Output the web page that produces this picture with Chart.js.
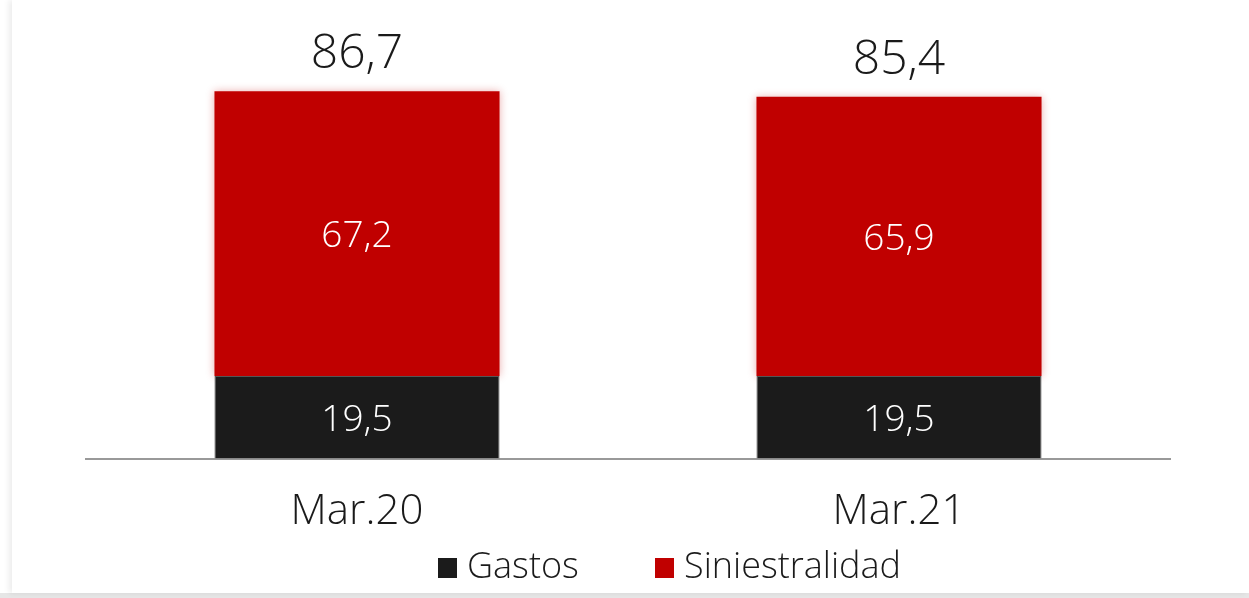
<!DOCTYPE html>
<html>
<head>
<meta charset="utf-8">
<script src="https://cdn.jsdelivr.net/npm/chart.js@4/dist/chart.umd.min.js"></script>
<style>
  html, body { margin: 0; padding: 0; }
  body {
    width: 1249px; height: 598px; overflow: hidden; position: relative;
    background: linear-gradient(to bottom, #fff 0, #fff 593px, #e6e6e6 593px);
  }
  .card {
    position: absolute; left: 12px; top: 0; width: 1237px; height: 593px;
    background: #fff; box-shadow: -3px 0 6px rgba(0,0,0,0.08);
  }
  canvas { position: absolute; left: 0; top: 0; }
</style>
</head>
<body>
<div class="card"></div>
<canvas id="chart" width="1249" height="598"></canvas>
<script>
const periods = ['Mar.20', 'Mar.21']
const gastos = [19.5, 19.5]
const siniestralidad = [67.2, 65.9]
const totals = [86.7, 85.4]

const FONT = '"Open Sans", "DejaVu Sans", sans-serif'
const fmt = v => v.toFixed(1).replace('.', ',')

// white values inside each segment, combined ratio above each column
const valueLabels = {
  id: 'valueLabels',
  afterDatasetsDraw(chart) {
    const ctx = chart.ctx
    ctx.save()
    ctx.textAlign = 'center'
    ctx.fillStyle = '#fff'
    ctx.font = '300 37px ' + FONT
    ctx.textBaseline = 'middle'
    chart.data.datasets.forEach((ds, i) => {
      chart.getDatasetMeta(i).data.forEach((bar, j) => {
        const mid = (bar.y + bar.base) / 2
        ctx.fillText(fmt(ds.data[j]), bar.x, mid + 3)
      })
    })
    const top = chart.getDatasetMeta(1).data
    ctx.fillStyle = '#1a1a1a'
    ctx.font = '300 48px ' + FONT
    ctx.textBaseline = 'alphabetic'
    top.forEach((bar, j) => {
      ctx.fillText(fmt(totals[j]), bar.x, bar.y - 23)
    })
    ctx.restore()
  }
}

// legend row under the axis labels, spaced like the original report
const legendRow = {
  id: 'legendRow',
  afterDraw(chart) {
    const ctx = chart.ctx
    const starts = [438, 655]
    const y = 568
    ctx.save()
    ctx.font = '300 36px ' + FONT
    ctx.textBaseline = 'middle'
    ctx.textAlign = 'left'
    chart.data.datasets.forEach((ds, i) => {
      ctx.fillStyle = ds.backgroundColor
      ctx.fillRect(starts[i], y - 10, 19, 20)
      ctx.fillStyle = '#1a1a1a'
      ctx.fillText(ds.label, starts[i] + 29, y)
    })
    ctx.restore()
  }
}

// soft red glow behind the claims segment
const barGlow = {
  id: 'barGlow',
  beforeDatasetDraw(chart, args) {
    if (args.index !== 1) return
    chart.ctx.save()
    chart.ctx.shadowColor = 'rgba(192,0,0,0.3)'
    chart.ctx.shadowBlur = 8
  },
  afterDatasetDraw(chart, args) {
    if (args.index !== 1) return
    chart.ctx.restore()
  }
}

new Chart(document.getElementById('chart'), {
  type: 'bar',
  data: {
    labels: periods,
    datasets: [
      {
        label: 'Gastos',
        data: gastos,
        backgroundColor: '#1b1b1b',
        borderColor: '#555',
        borderWidth: { left: 1, right: 1, top: 1, bottom: 0 },
        borderSkipped: false
      },
      {
        label: 'Siniestralidad',
        data: siniestralidad,
        backgroundColor: '#c00000',
        borderWidth: 0
      }
    ]
  },
  options: {
    responsive: false,
    animation: false,
    events: [],
    layout: { padding: { left: 86, right: 79, top: 35, bottom: 41 } },
    datasets: { bar: { categoryPercentage: 1, barPercentage: 0.526 } },
    scales: {
      x: {
        stacked: true,
        grid: { display: false },
        border: { color: '#999', width: 2 },
        ticks: { color: '#1a1a1a', font: { family: FONT, size: 42, weight: '300' }, padding: 20 }
      },
      y: {
        stacked: true,
        display: false,
        min: 0,
        max: 100
      }
    },
    plugins: {
      tooltip: { enabled: false },
      legend: { display: false }
    }
  },
  plugins: [barGlow, valueLabels, legendRow]
})
</script>
</body>
</html>
